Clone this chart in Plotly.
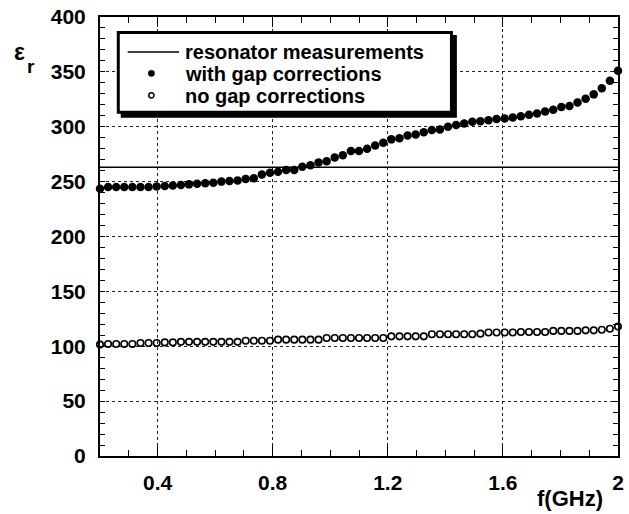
import plotly.graph_objects as go

# ---------------- data ----------------
freq_start = 0.2
freq_step = 0.028125
n_points = 65
freq = [round(freq_start + i * freq_step, 5) for i in range(n_points)]

eps_with_gap = [
    243.5, 245, 245, 245, 245, 245, 245, 245.5, 246, 246.5,
    247, 247.5, 248, 248.5, 249, 250, 250.5, 251, 252.5, 253,
    256.5, 258, 259, 260.5, 260.5, 263.5, 265, 267.5, 268.5, 272,
    274, 278, 278, 280, 283, 285.5, 288.5, 289.5, 292, 293,
    295, 297, 297.5, 300, 301.5, 303, 304.5, 305, 306, 307,
    307.5, 308.5, 309.5, 311, 312, 314, 315.5, 318, 319, 322,
    325.5, 329.5, 335, 342, 351,
]

eps_no_gap = [
    101.5, 102, 102, 102, 102, 103, 103, 103, 103.5, 103.5,
    104, 104, 104, 104, 104, 104, 104, 104, 105, 105,
    105, 105, 106, 106, 106, 106, 106, 106, 107.5, 107.5,
    107.5, 107.5, 107.5, 107.5, 107.5, 107.5, 109, 109, 109, 109,
    109, 111, 111, 111, 111, 111, 111, 111.5, 112.5, 112.5,
    112.5, 112.5, 113, 113, 113, 113, 114, 114, 114, 114,
    114.5, 114.5, 115, 116, 118,
]

resonator_value = 263
resonator_x = [0.2, 2.0]

x_tickvals = [0.4, 0.8, 1.2, 1.6, 2.0]
x_ticktext = ["0.4", "0.8", "1.2", "1.6", "2"]
y_tickvals = [0, 50, 100, 150, 200, 250, 300, 350, 400]
y_ticktext = ["0", "50", "100", "150", "200", "250", "300", "350", "400"]

legend_labels = ["resonator measurements", "with gap corrections", "no gap corrections"]

# ---------------- figure ----------------
W, H = 629, 514
L, R, T, B = 100, 5, 16, 58
PW, PH = W - L - R, H - T - B

def px(xp):
    return (xp - L) / PW

def py(yp):
    return (H - B - yp) / PH

FONT = "Liberation Sans, Arial, sans-serif"

fig = go.Figure()

fig.add_trace(go.Scatter(
    x=resonator_x, y=[resonator_value] * len(resonator_x), mode="lines",
    line=dict(color="black", width=1.5), showlegend=False, hoverinfo="skip"))

fig.add_trace(go.Scatter(
    x=freq, y=eps_with_gap, mode="markers",
    marker=dict(symbol="circle", size=8.5, color="black", line=dict(width=0)),
    showlegend=False, cliponaxis=False))

fig.add_trace(go.Scatter(
    x=freq, y=eps_no_gap, mode="markers",
    marker=dict(symbol="circle-open", size=6.5, color="black", line=dict(width=1.6)),
    showlegend=False, cliponaxis=False))

axis_common = dict(
    showline=True, linecolor="black", linewidth=2, mirror="allticks",
    ticks="inside", tickcolor="black", tickwidth=1.3,
    showgrid=True, gridcolor="#222222", gridwidth=1, griddash="dot",
    zeroline=False,
    tickfont=dict(family=FONT, size=21, color="black", weight="bold"),
)

fig.update_xaxes(
    range=[0.2, 2.0], tickmode="array", tickvals=x_tickvals, ticktext=x_ticktext,
    ticklen=10, ticklabelstandoff=7,
    minor=dict(dtick=0.1, tick0=0.2, ticks="inside", ticklen=6, tickcolor="black", tickwidth=1.3, showgrid=False),
    **axis_common)
fig.update_yaxes(
    range=[0, 400], tickmode="array", tickvals=y_tickvals, ticktext=y_ticktext,
    ticklen=5, ticklabelstandoff=8,
    minor=dict(dtick=10, tick0=0, ticks="inside", ticklen=5, tickcolor="black", tickwidth=1.3, showgrid=False),
    **axis_common)

shapes = []
# legend shadow + box
shapes.append(dict(type="rect", xref="paper", yref="paper", layer="above",
                   x0=px(121), x1=px(461), y0=py(34), y1=py(117),
                   fillcolor="black", line=dict(width=0)))
shapes.append(dict(type="rect", xref="paper", yref="paper", layer="above",
                   x0=px(118.5), x1=px(455.5), y0=py(31.5), y1=py(111.5),
                   fillcolor="white", line=dict(color="black", width=3)))
# legend line sample
shapes.append(dict(type="line", xref="paper", yref="paper", layer="above",
                   x0=px(128), x1=px(180), y0=py(51), y1=py(51),
                   line=dict(color="black", width=1.5)))
# legend marker samples
shapes.append(dict(type="circle", xref="paper", yref="paper", layer="above",
                   xsizemode="pixel", ysizemode="pixel",
                   xanchor=px(152), yanchor=py(72.5), x0=-3.2, x1=3.2, y0=-3.2, y1=3.2,
                   fillcolor="black", line=dict(color="black", width=0.5)))
shapes.append(dict(type="circle", xref="paper", yref="paper", layer="above",
                   xsizemode="pixel", ysizemode="pixel",
                   xanchor=px(152), yanchor=py(94.5), x0=-2.6, x1=2.6, y0=-2.6, y1=2.6,
                   fillcolor="white", line=dict(color="black", width=1.5)))

annotations = []
for lbl, yy in zip(legend_labels, [51, 73, 95]):
    annotations.append(dict(text=lbl, xref="paper", yref="paper", x=px(184), y=py(yy),
                            xanchor="left", yanchor="middle", showarrow=False,
                            font=dict(family=FONT, size=20, color="black", weight="bold")))

annotations.append(dict(text="ε", xref="paper", yref="paper", x=px(19), y=py(51),
                        xanchor="center", yanchor="middle", showarrow=False,
                        font=dict(family=FONT, size=23, color="black", weight="bold")))
annotations.append(dict(text="r", xref="paper", yref="paper", x=px(30), y=py(66),
                        xanchor="center", yanchor="middle", showarrow=False,
                        font=dict(family=FONT, size=19, color="black", weight="bold")))
annotations.append(dict(text="f(GHz)", xref="paper", yref="paper", x=px(575), y=py(499),
                        xanchor="center", yanchor="middle", showarrow=False,
                        font=dict(family=FONT, size=22, color="black", weight="bold")))

fig.update_layout(
    width=W, height=H, margin=dict(l=L, r=R, t=T, b=B, pad=0),
    paper_bgcolor="white", plot_bgcolor="white",
    shapes=shapes, annotations=annotations, showlegend=False,
)

fig.write_html("out.html")
